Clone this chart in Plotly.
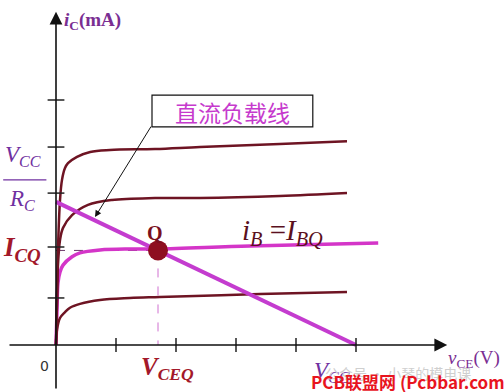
import plotly.graph_objects as go

# ---- data (axis units: x = v_CE, y = i_C) ----
ib1_x = [0, 0.017, 0.067, 0.15, 0.233, 0.4, 0.733, 1.23, 1.73, 3.4, 4.85]
ib1_y = [0, 0.31, 0.55, 0.67, 0.76, 0.84, 0.92, 0.96, 0.98, 1.04, 1.08]

ibq_x = [0, 0.017, 0.033, 0.067, 0.117, 0.267, 0.4, 0.733, 1.23, 1.7, 3.23, 5.37]
ibq_y = [0, 0.71, 1.27, 1.49, 1.63, 1.80, 1.88, 1.94, 1.96, 1.96, 2.02, 2.08]

ib3_x = [0, 0.017, 0.033, 0.067, 0.117, 0.267, 0.533, 0.933, 1.65, 2.4, 3.73, 4.85]
ib3_y = [0, 0.92, 1.63, 2.14, 2.39, 2.65, 2.86, 2.96, 3.0, 3.0, 3.04, 3.1]

ib4_x = [0, 0.017, 0.033, 0.067, 0.1, 0.15, 0.2, 0.35, 0.57, 0.9, 1.65, 2.4, 3.73, 4.85]
ib4_y = [0, 0.92, 1.94, 2.96, 3.37, 3.61, 3.71, 3.84, 3.94, 3.98, 4.0, 4.04, 4.1, 4.16]

load_x = [0, 5.0]
load_y = [2.92, 0]

q_x = [1.7]
q_y = [1.93]

x_ticks = [1, 2, 3, 4, 5]
y_ticks = [0.96, 2.0, 3.1, 4.04, 5.0]

MAROON = "#6E1423"
PINK = "#D435C8"
LOAD = "#C43CCF"
PURPLE = "#7A2E92"
DARKRED = "#A3182A"
SERIF = "Liberation Serif"

fig = go.Figure()

# dashed guides
fig.add_trace(go.Scatter(x=[0, q_x[0]], y=[q_y[0], q_y[0]], mode="lines",
                         line=dict(color="#6A3A6A", width=1, dash="dash"), hoverinfo="skip"))
fig.add_trace(go.Scatter(x=[q_x[0], q_x[0]], y=[q_y[0], 0], mode="lines",
                         line=dict(color="#D070D0", width=1, dash="dash"), hoverinfo="skip"))

# output characteristics
fig.add_trace(go.Scatter(x=ibq_x, y=ibq_y, mode="lines", line=dict(color=PINK, width=3.5, shape="spline")))
for cx, cy in [(ib1_x, ib1_y), (ib3_x, ib3_y), (ib4_x, ib4_y)]:
    fig.add_trace(go.Scatter(x=cx, y=cy, mode="lines", line=dict(color=MAROON, width=2.5, shape="spline")))

# load line
fig.add_trace(go.Scatter(x=load_x, y=load_y, mode="lines", line=dict(color=LOAD, width=4)))

# axis tick marks
fig.add_trace(go.Scatter(x=x_ticks, y=[0] * len(x_ticks), mode="markers",
                         marker=dict(symbol="line-ns", size=10, line=dict(color="#222", width=1.5))))
fig.add_trace(go.Scatter(x=[0] * len(y_ticks), y=y_ticks, mode="markers",
                         marker=dict(symbol="line-ew", size=12, line=dict(color="#222", width=1.5))))

# Q point
fig.add_trace(go.Scatter(x=q_x, y=q_y, mode="markers",
                         marker=dict(symbol="circle", size=20, color="#8E0F20")))

# axes with arrows
fig.add_annotation(x=6.52, y=0, ax=-0.8, ay=0, xref="x", yref="y", axref="x", ayref="y",
                   showarrow=True, arrowhead=2, arrowsize=1.6, arrowwidth=1.6, arrowcolor="#111", text="")
fig.add_annotation(x=0, y=6.8, ax=0, ay=-0.92, xref="x", yref="y", axref="x", ayref="y",
                   showarrow=True, arrowhead=2, arrowsize=1.6, arrowwidth=1.6, arrowcolor="#111", text="")

# callout box
fig.add_shape(type="rect", x0=1.6, x1=4.28, y0=4.45, y1=5.1, xref="x", yref="y",
              line=dict(color="#111", width=1.2), fillcolor="white")
fig.add_annotation(x=2.94, y=4.76, xref="x", yref="y", text="直流负载线", showarrow=False,
                   font=dict(family="Noto Sans CJK SC", size=23, color="#C63ACD"))
fig.add_annotation(x=0.65, y=2.61, ax=1.6, ay=4.49, xref="x", yref="y", axref="x", ayref="y",
                   showarrow=True, arrowhead=2, arrowsize=1.3, arrowwidth=1, arrowcolor="#111", text="")

# labels
fig.add_annotation(x=0.1, y=6.62, xref="x", yref="y", xanchor="left", showarrow=False,
                   text="<b><i>i</i><sub>C</sub>(mA)</b>", font=dict(family=SERIF, size=19, color=PURPLE))
fig.add_annotation(x=-0.55, y=3.85, xref="x", yref="y", showarrow=False,
                   text="<i>V</i><sub><i>CC</i></sub>", font=dict(family=SERIF, size=23, color="#7030A0"))
fig.add_shape(type="line", x0=-0.88, x1=-0.16, y0=3.37, y1=3.37, xref="x", yref="y",
              line=dict(color="#7030A0", width=1.2))
fig.add_annotation(x=-0.57, y=2.95, xref="x", yref="y", showarrow=False,
                   text="<i>R</i><sub><i>C</i></sub>", font=dict(family=SERIF, size=23, color="#7030A0"))
fig.add_annotation(x=-0.57, y=1.96, xref="x", yref="y", showarrow=False,
                   text="<b><i>I</i></b><sub><b><i>CQ</i></b></sub>", font=dict(family=SERIF, size=27, color=DARKRED))
fig.add_annotation(x=1.65, y=2.28, xref="x", yref="y", showarrow=False,
                   text="<b>Q</b>", font=dict(family=SERIF, size=20, color="#7A1020"))
fig.add_annotation(x=3.77, y=2.3, xref="x", yref="y", showarrow=False,
                   text="<i>i</i><sub><i>B</i></sub> =<i>I</i><sub><i>BQ</i></sub>",
                   font=dict(family=SERIF, size=29, color="#5A1020"))
fig.add_annotation(x=-0.2, y=-0.43, xref="x", yref="y", showarrow=False,
                   text="0", font=dict(family="DejaVu Sans", size=14, color="#333"))
fig.add_annotation(x=1.85, y=-0.48, xref="x", yref="y", showarrow=False,
                   text="<b><i>V</i></b><sub><b><i>CEQ</i></b></sub>", font=dict(family=SERIF, size=25, color=DARKRED))
fig.add_annotation(x=4.6, y=-0.55, xref="x", yref="y", showarrow=False,
                   text="<i>V</i><sub><i>CC</i></sub>", font=dict(family=SERIF, size=23, color="#7030A0"))
fig.add_annotation(x=6.5, y=-0.28, xref="x", yref="y", xanchor="left", showarrow=False,
                   text="<i>v</i><sub>CE</sub>(V)", font=dict(family=SERIF, size=19, color=PURPLE))

# watermarks
fig.add_annotation(x=4.45, y=-0.58, xref="x", yref="y", xanchor="left", showarrow=False,
                   text="公众号 · 小琴的模电课", font=dict(family="Noto Sans CJK SC", size=14, color="#CFCFCF"))
fig.add_annotation(x=4.22, y=-0.75, xref="x", yref="y", xanchor="left", showarrow=False,
                   text="<b>PCB联盟网 (Pcbbar.com)</b>",
                   font=dict(family="Noto Sans CJK SC", size=17, color="#E8141E"))

fig.update_layout(
    width=504, height=392, margin=dict(l=0, r=0, t=0, b=0),
    plot_bgcolor="white", paper_bgcolor="white", showlegend=False,
    xaxis=dict(range=[-56 / 60, 448 / 60], visible=False, fixedrange=True),
    yaxis=dict(range=[-47 / 49, 345 / 49], visible=False, fixedrange=True),
)

fig.write_html("out.html")
